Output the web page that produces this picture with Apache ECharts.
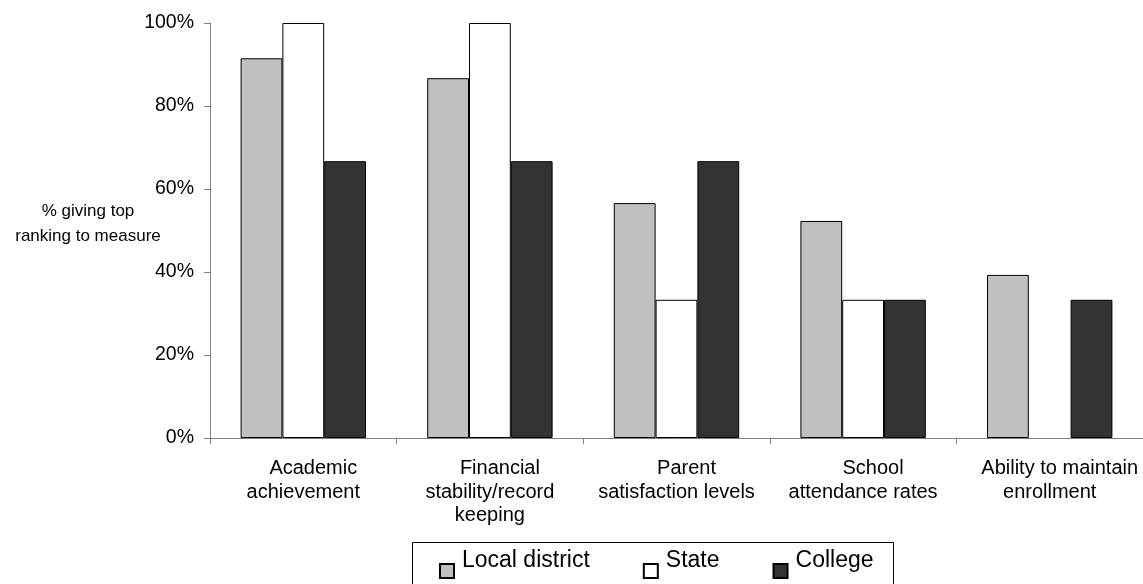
<!DOCTYPE html>
<html>
<head>
<meta charset="utf-8">
<title>Top-ranked accountability measures</title>
<script src="https://cdn.jsdelivr.net/npm/echarts@6/dist/echarts.min.js"></script>
<style>
  html, body { margin: 0; padding: 0; background: #fff; }
  #chart { width: 1143px; height: 584px; }
</style>
</head>
<body>
<div id="chart"></div>
<script>
// Measures asked about, and the share of each group ranking it first (%)
const categories = [
  'Academic\nachievement',
  'Financial\nstability/record\nkeeping',
  'Parent\nsatisfaction levels',
  'School\nattendance rates',
  'Ability to maintain\nenrollment'
];
const localDistrict = [91.5, 86.7, 56.6, 52.3, 39.3];
const state = [100, 100, 33.3, 33.3, 0];
const college = [66.7, 66.7, 66.7, 33.3, 33.3];
const seriesNames = ['Local district', 'State', 'College'];
const axisTitle = '% giving top\nranking to measure';

const FONT = '"Liberation Sans", Arial, sans-serif';
const fills = ['#c0c0c0', '#ffffff', '#333333'];
const values = [localDistrict, state, college];

// Legend swatch: a 14px square sitting low beside the text (empty space above it)
const swatch = 'path://M0,0M0,21L14,21L14,35L0,35Z';

const chart = echarts.init(document.getElementById('chart'), null, { renderer: 'canvas' });

chart.setOption({
  animation: false,
  backgroundColor: '#ffffff',
  textStyle: { fontFamily: FONT, color: '#000' },
  grid: { left: 210, right: 0, top: 23, bottom: 146, containLabel: false },
  legend: {
    data: seriesNames.map(name => ({ name, icon: swatch })),
    left: 439,
    top: 542,
    orient: 'horizontal',
    padding: 0,
    itemGap: 53,
    itemWidth: 14,
    itemHeight: 35,
    textStyle: { fontFamily: FONT, fontSize: 23, color: '#000', padding: [0, 0, 0, 3] }
  },
  xAxis: {
    type: 'category',
    data: categories,
    boundaryGap: true,
    axisLine: { lineStyle: { color: '#808080', width: 1 } },
    axisTick: { show: true, alignWithLabel: false, length: 6, lineStyle: { color: '#808080' } },
    axisLabel: {
      interval: 0,
      margin: 19,
      fontFamily: FONT,
      fontSize: 20,
      lineHeight: 23.5,
      color: '#000',
      // first line of each label sits a little right of centre
      formatter: value => {
        const lines = value.split('\n');
        return '{first|' + lines[0] + '}' + (lines.length > 1 ? '\n' + lines.slice(1).join('\n') : '');
      },
      rich: {
        first: { fontFamily: FONT, fontSize: 20, lineHeight: 23.5, color: '#000', padding: [0, 0, 0, 20] }
      }
    },
    splitLine: { show: false }
  },
  yAxis: {
    type: 'value',
    min: 0,
    max: 100,
    interval: 20,
    axisLine: { show: true, lineStyle: { color: '#808080', width: 1 } },
    axisTick: { show: true, length: 6, lineStyle: { color: '#808080' } },
    axisLabel: {
      formatter: '{value}%',
      fontFamily: FONT,
      fontSize: 19.5,
      color: '#000',
      margin: 16
    },
    splitLine: { show: false }
  },
  graphic: [
    {
      type: 'text',
      x: 88,
      y: 224,
      style: {
        text: axisTitle,
        fontFamily: FONT,
        fontSize: 17,
        lineHeight: 25,
        fill: '#000',
        align: 'center',
        verticalAlign: 'middle'
      }
    },
    {
      // frame around the legend
      type: 'rect',
      shape: { x: 412.5, y: 542.5, width: 481, height: 60 },
      style: { fill: 'none', stroke: '#000', lineWidth: 1 },
      silent: true
    }
  ],
  series: seriesNames.map((name, i) => ({
    name,
    type: 'bar',
    // zero-height bars get no outline so nothing is drawn over the axis
    data: values[i].map(v => (v === 0 ? { value: v, itemStyle: { borderWidth: 0 } } : v)),
    barGap: '0%',
    barCategoryGap: '32.8%',
    itemStyle: { color: fills[i], borderColor: '#000', borderWidth: 1 },
    emphasis: { disabled: true }
  }))
});
</script>
</body>
</html>
